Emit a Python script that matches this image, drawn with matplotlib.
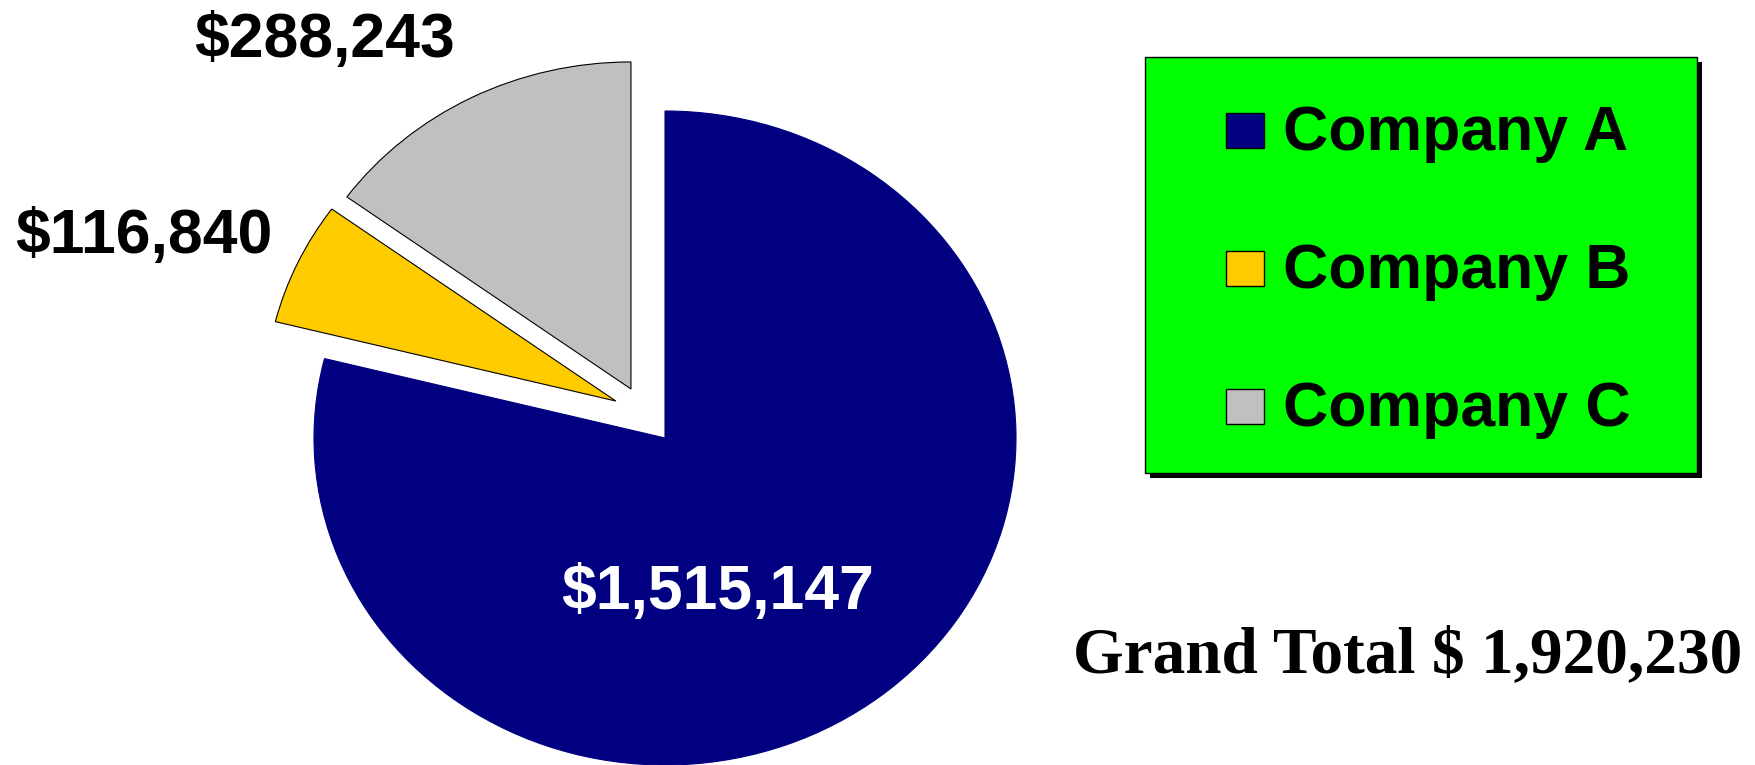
import numpy as np
import matplotlib.pyplot as plt
from matplotlib.patches import Rectangle

companies = ['Company A', 'Company B', 'Company C']
sales = [1515147, 116840, 288243]
colors = ['#000080', '#FFCC00', '#C0C0C0']

W, H = 1756, 765
fig = plt.figure(figsize=(W / 100, H / 100), dpi=100)
fig.patch.set_facecolor('white')

# pie is drawn as an ellipse: axes stretched so 1 unit = 351 px wide, 327 px tall
rx, ry = 351, 327
cx, cy = 665, H - 438
ax = fig.add_axes([(cx - 1.3 * rx) / W, (cy - 1.3 * ry) / H, 2.6 * rx / W, 2.6 * ry / H])
wedges, _ = ax.pie(sales, colors=colors, startangle=90,
                   counterclock=False, radius=1,
                   wedgeprops=dict(edgecolor='black', linewidth=0.8))
wedges[0].set_edgecolor('#000080')

# pulled-out slices (offset of the slice tip, in pie radius units)
pull = [(0, 0), (-0.140, 0.113), (-0.097, 0.150)]
for w, (dx, dy) in zip(wedges, pull):
    w.set_center((dx, dy))

ax.set_aspect('auto')
ax.set_xlim(-1.3, 1.3)
ax.set_ylim(-1.3, 1.3)
ax.axis('off')

label_font = dict(family='Liberation Sans', weight='bold', fontsize=45)
label_pos = [(0.151, -0.523), (-1.484, 0.566), (-0.971, 1.165)]
label_col = ['white', 'black', 'black']
for val, (x, y), c in zip(sales, label_pos, label_col):
    ax.text(x, y, '${:,}'.format(val), ha='center', va='baseline', color=c, **label_font)

# legend box with drop shadow
def px_rect(x0, y0, x1, y1, **kw):
    fig.add_artist(Rectangle((x0 / W, 1 - y1 / H), (x1 - x0) / W, (y1 - y0) / H,
                             transform=fig.transFigure, **kw))

px_rect(1150, 62, 1702, 478, facecolor='black', edgecolor='none')
px_rect(1145, 57, 1697, 473, facecolor='#00FF00', edgecolor='black', linewidth=1)
rows = [130, 268, 406]
for name, c, yc in zip(companies, colors, rows):
    px_rect(1226, yc - 17.5, 1264, yc + 17.5, facecolor=c, edgecolor='black', linewidth=1)
    fig.text(1283 / W, 1 - (yc + 20) / H, name, ha='left', va='baseline',
             family='Liberation Sans', weight='bold', fontsize=45)

fig.text(1073 / W, 1 - 672 / H, 'Grand Total $ {:,}'.format(sum(sales)),
         ha='left', va='baseline', family='Liberation Serif', weight='bold', fontsize=47)

fig.savefig('out.png', dpi=100)
